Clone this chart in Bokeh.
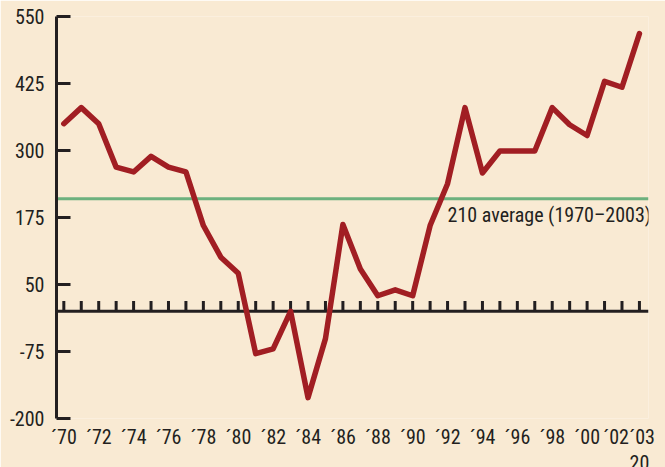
from bokeh.plotting import figure
from bokeh.models import Range1d, FixedTicker, Span, Label, LinearAxis
from bokeh.embed import file_html
from bokeh.resources import INLINE

# ---- data ----
years = list(range(1970, 2004))
values = [350, 380, 350, 269, 260, 289, 269, 260, 160, 101,
          71, -79, -70, 0, -161, -51, 162, 79, 29, 40,
          29, 160, 238, 380, 258, 299, 299, 299, 380, 348,
          328, 429, 418, 518]
average = 210
average_label = "210 average (1970–2003)"
y_ticks = [-200, -75, 50, 175, 300, 425, 550]
y_labels = {t: str(t) for t in y_ticks}
x_label_years = list(range(1970, 2001, 2))
x_labels = {y: "´" + str(y)[2:] for y in x_label_years}
last_pair = [2002, 2003]          # printed together as one label
footer_text = "20"

BG = "#F9EAD3"
INK = "#231F20"
RED = "#A11E23"
GREEN = "#6DB17E"
FONT = "Roboto Condensed"
FS = "20px"

p = figure(frame_width=592, frame_height=402, output_backend="svg",
           toolbar_location=None,
           x_range=Range1d(1969.58, 2003.52), y_range=Range1d(-200, 550),
           min_border_left=56, min_border_right=17, min_border_top=16,
           min_border_bottom=0)
p.background_fill_color = BG
p.border_fill_color = BG
p.outline_line_color = None
p.grid.visible = False

# y axis
yax = p.yaxis[0]
yax.ticker = FixedTicker(ticks=y_ticks)
yax.major_label_overrides = y_labels
yax.axis_line_width = 3
yax.axis_line_color = INK
yax.major_tick_in = 14
yax.major_tick_out = 0
yax.major_tick_line_width = 3
yax.major_tick_line_color = INK
yax.minor_tick_line_color = None
yax.major_label_standoff = 12
yax.major_label_text_font = FONT
yax.major_label_text_font_size = FS
yax.major_label_text_color = INK

# x axis (labels only)
pair_pos = sum(last_pair) / 2 - 0.1
pair_text = "".join("´" + str(y)[2:] for y in last_pair)
xax = p.xaxis[0]
xax.ticker = FixedTicker(ticks=x_label_years + [pair_pos])
xax.major_label_overrides = {**x_labels, pair_pos: pair_text}
xax.axis_line_color = None
xax.major_tick_line_color = None
xax.minor_tick_line_color = None
xax.major_label_standoff = 0
xax.major_label_text_font = FONT
xax.major_label_text_font_size = FS
xax.major_label_text_color = INK

# second label row (cut off at the bottom, as in the source)
foot = LinearAxis(ticker=FixedTicker(ticks=[last_pair[1]]),
                  major_label_overrides={last_pair[1]: footer_text})
foot.axis_line_color = None
foot.major_tick_line_color = None
foot.minor_tick_line_color = None
foot.major_label_standoff = -3
foot.major_label_text_font = FONT
foot.major_label_text_font_size = FS
foot.major_label_text_color = INK
p.add_layout(foot, "below")

# average line and zero line
p.add_layout(Span(location=average, dimension="width", line_color=GREEN,
                  line_width=3, level="underlay"))
p.add_layout(Span(location=0, dimension="width", line_color=INK,
                  line_width=3, level="underlay"))

# year ticks on the zero line
tick_h = 19
p.segment(x0=years, y0=[0] * len(years), x1=years, y1=[tick_h] * len(years),
          line_color=INK, line_width=3)

# series
p.line(years, values, line_color=RED, line_width=5.5,
       line_join="round", line_cap="round")

p.add_layout(Label(x=1992, y=average, text=average_label, text_baseline="top",
                   y_offset=-4, text_font=FONT, text_font_size=FS,
                   text_color=INK))

html = file_html(p, INLINE)
html = html.replace("<body>", '<body style="background:%s;overflow:hidden">' % BG, 1)
open("out.html", "w").write(html)
